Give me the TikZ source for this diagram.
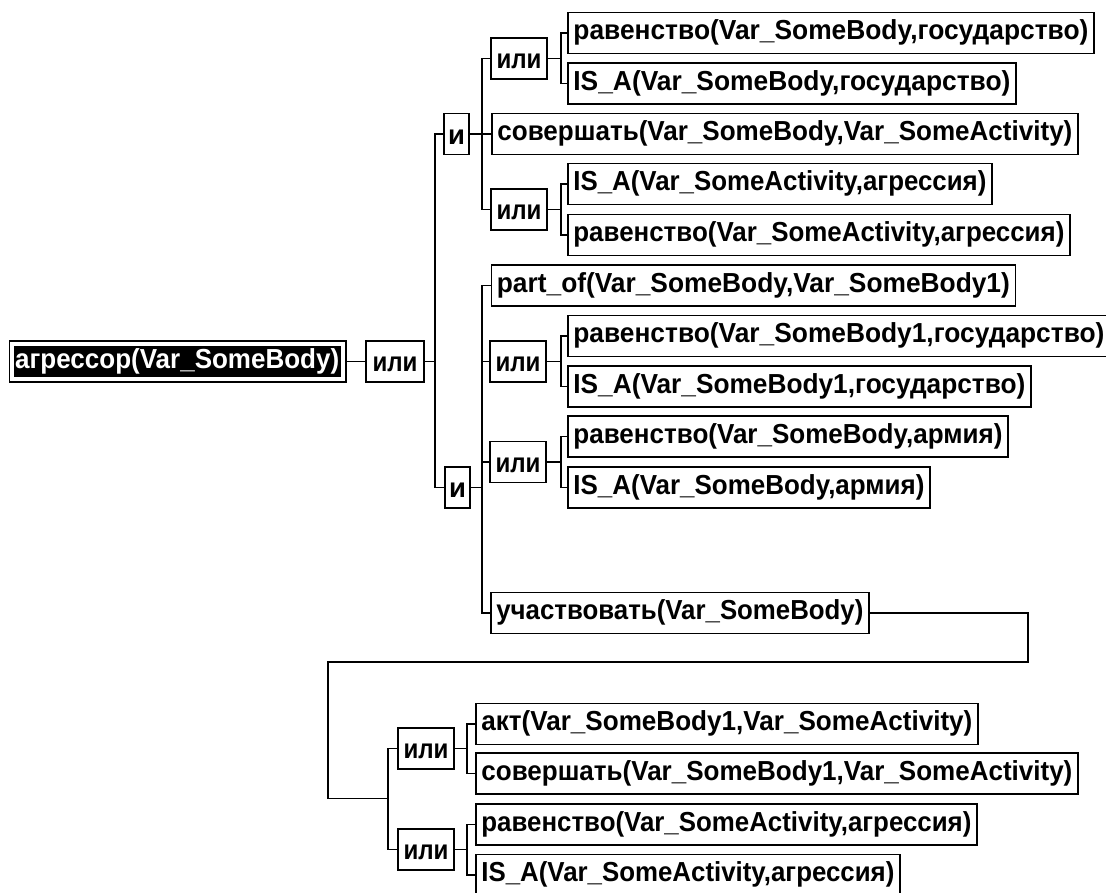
\documentclass[tikz,border=0pt]{standalone}
\usepackage{fontspec}
\setmainfont{Liberation Sans}
\usepackage{graphicx}
\newcommand\fitw[2]{\resizebox{#1pt}{\height}{#2}}
\begin{document}
\begin{tikzpicture}[x=1pt,y=-1pt,
  font=\fontsize{27.5}{31}\selectfont\bfseries,
  box/.style={draw=black, line width=1.8pt, inner sep=0pt, minimum height=41pt},
  leaf/.style={box, anchor=west, text height=19pt, text depth=6pt},
  op/.style={box, anchor=center, text height=20pt, text depth=0pt},
  wire/.style={draw=black, line width=1.9pt}]
\useasboundingbox (0,0) rectangle (1106,892);
\fill[white] (0,0) rectangle (1106,892);
\clip (0,0) rectangle (1106,892);

% root
\node[fill=black, text=white, inner sep=0pt, anchor=west, minimum width=327pt, minimum height=31pt,
      text height=19pt, text depth=6pt] (root) at (13.5,361.5) {\fitw{324}{агрессор(Var\_SomeBody)}};
\draw[line width=1.5pt] ([xshift=-4pt,yshift=5pt]root.north west) rectangle ([xshift=5pt,yshift=-5pt]root.south east);
\coordinate (rootout) at ([xshift=5pt]root.east);

% operators
\node[op, minimum width=57.6pt] (o0) at (395,361.5) {\fitw{45}{или}};
\node[op, minimum width=25pt] (i1) at (456.5,134) {и};
\node[op, minimum width=25pt] (i2) at (457.5,487.5) {и};
\node[op, minimum width=56pt] (o1) at (519,58.5) {\fitw{45}{или}};
\node[op, minimum width=56pt] (o2) at (519,209.5) {\fitw{45}{или}};
\node[op, minimum width=56pt] (o3) at (518,361.5) {\fitw{45}{или}};
\node[op, minimum width=56pt] (o4) at (518,462) {\fitw{45}{или}};
\node[op, minimum width=56pt] (o5) at (426,748.5) {\fitw{45}{или}};
\node[op, minimum width=56pt] (o6) at (426,849.5) {\fitw{45}{или}};

% leaves
\node[leaf, minimum width=526pt] (L1) at (567,33) {\fitw{515}{равенство(Var\_SomeBody,государство)}};
\node[leaf, minimum width=448pt] (L2) at (567,83.5) {\fitw{437}{IS\_A(Var\_SomeBody,государство)}};
\node[leaf, minimum width=586pt] (L3) at (491,134) {\fitw{575}{совершать(Var\_SomeBody,Var\_SomeActivity)}};
\node[leaf, minimum width=424pt] (L4) at (567,184) {\fitw{413}{IS\_A(Var\_SomeActivity,агрессия)}};
\node[leaf, minimum width=502pt] (L5) at (567,235) {\fitw{491}{равенство(Var\_SomeActivity,агрессия)}};
\node[leaf, minimum width=524pt] (L6) at (490.5,285.5) {\fitw{513}{part\_of(Var\_SomeBody,Var\_SomeBody1)}};
\node[leaf, minimum width=542pt] (L7) at (567,336) {\fitw{531}{равенство(Var\_SomeBody1,государство)}};
\node[leaf, minimum width=463pt] (L8) at (567,386.5) {\fitw{452}{IS\_A(Var\_SomeBody1,государство)}};
\node[leaf, minimum width=440pt] (L9) at (567,436.5) {\fitw{429}{равенство(Var\_SomeBody,армия)}};
\node[leaf, minimum width=362pt] (L10) at (567,487.5) {\fitw{351}{IS\_A(Var\_SomeBody,армия)}};
\node[leaf, minimum width=378pt] (L11) at (490,613) {\fitw{367}{участвовать(Var\_SomeBody)}};
\node[leaf, minimum width=502pt] (L12) at (475,724) {\fitw{491}{акт(Var\_SomeBody1,Var\_SomeActivity)}};
\node[leaf, minimum width=602pt] (L13) at (475,773.5) {\fitw{591}{совершать(Var\_SomeBody1,Var\_SomeActivity)}};
\node[leaf, minimum width=501pt] (L14) at (475,824.5) {\fitw{490}{равенство(Var\_SomeActivity,агрессия)}};
\node[leaf, minimum width=424pt] (L15) at (475,875) {\fitw{413}{IS\_A(Var\_SomeActivity,агрессия)}};

% connectors
\draw[wire] (rootout) -- (o0.west);
\draw[wire] (o0.east) -- ++(10,0) |- (i1.west);
\draw[wire] (o0.east) -- ++(10,0) |- (i2.west);

\draw[wire] (i1.east) -- ++(12,0) |- (o1.west);
\draw[wire] (i1.east) -- (L3.west);
\draw[wire] (i1.east) -- ++(12,0) |- (o2.west);
\draw[wire] (o1.east) -- ++(13,0) |- (L1.west);
\draw[wire] (o1.east) -- ++(13,0) |- (L2.west);
\draw[wire] (o2.east) -- ++(13,0) |- (L4.west);
\draw[wire] (o2.east) -- ++(13,0) |- (L5.west);

\draw[wire] (i2.east) -- ++(11,0) |- (L6.west);
\draw[wire] (i2.east) -- ++(11,0) |- (o3.west);
\draw[wire] (i2.east) -- ++(11,0) |- (o4.west);
\draw[wire] (i2.east) -- ++(11,0) |- (L11.west);
\draw[wire] (o3.east) -- ++(14,0) |- (L7.west);
\draw[wire] (o3.east) -- ++(14,0) |- (L8.west);
\draw[wire] (o4.east) -- ++(14,0) |- (L9.west);
\draw[wire] (o4.east) -- ++(14,0) |- (L10.west);

\coordinate (k1) at (1028,662);
\coordinate (k2) at (328,798.5);
\coordinate (j) at (388,798.5);
\draw[wire] (L11.east) -| (k1) -| (k2) -- (j);
\draw[wire] (j) |- (o5.west);
\draw[wire] (j) |- (o6.west);
\draw[wire] (o5.east) -- ++(12,0) |- (L12.west);
\draw[wire] (o5.east) -- ++(12,0) |- (L13.west);
\draw[wire] (o6.east) -- ++(12,0) |- (L14.west);
\draw[wire] (o6.east) -- ++(12,0) |- (L15.west);
\end{tikzpicture}
\end{document}
